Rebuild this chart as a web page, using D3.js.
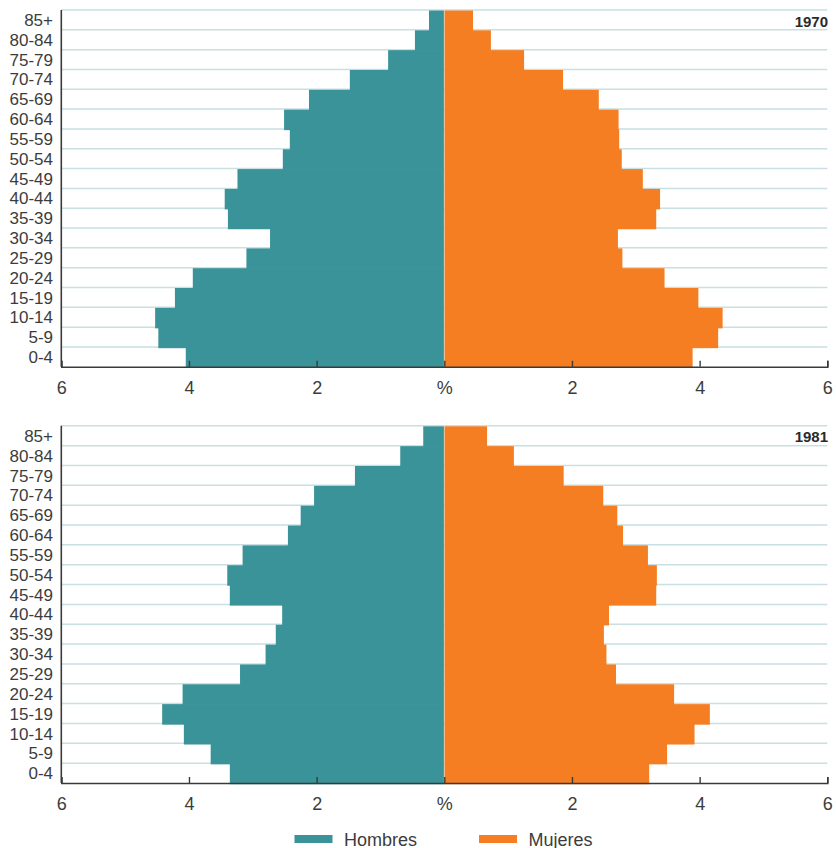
<!DOCTYPE html>
<html>
<head>
<meta charset="utf-8">
<script src="https://cdn.jsdelivr.net/npm/d3@7"></script>
<style>
  html, body { margin: 0; padding: 0; background: #fff; }
  svg { display: block; font-family: "Liberation Sans", Arial, Helvetica, sans-serif; }
</style>
</head>
<body>
<svg id="chart" width="836" height="848"></svg>
<script>
// Age groups, top to bottom
const ageGroups = ["85+","80-84","75-79","70-74","65-69","60-64","55-59","50-54","45-49","40-44","35-39","30-34","25-29","20-24","15-19","10-14","5-9","0-4"];

// 1970 (% of population)
const men1970   = [0.24,0.46,0.88,1.48,2.12,2.51,2.42,2.53,3.24,3.44,3.39,2.73,3.10,3.94,4.22,4.53,4.48,4.05];
const women1970 = [0.45,0.73,1.25,1.86,2.42,2.73,2.74,2.78,3.11,3.38,3.32,2.72,2.79,3.45,3.98,4.36,4.29,3.89];

// 1981 (% of population)
const men1981   = [0.33,0.69,1.40,2.04,2.25,2.45,3.16,3.40,3.36,2.54,2.64,2.80,3.20,4.10,4.42,4.08,3.66,3.36];
const women1981 = [0.67,1.09,1.87,2.49,2.71,2.80,3.19,3.33,3.32,2.58,2.50,2.54,2.69,3.60,4.16,3.92,3.49,3.21];

const tickValues = [-6,-4,-2,0,2,4,6];
const tickLabels = ["6","4","2","%","2","4","6"];
const years = ["1970","1981"];
const seriesNames = ["Hombres","Mujeres"];

const colors = { men: "#3a9399", women: "#f47e21" };
const textColor = "#3c3c3c";
const gridColor = "#c9dfe2";
const axisColor = "#3a3a3a";

const svg = d3.select("#chart");

const x = d3.scaleLinear().domain([-6, 6]).range([61.3, 827.3]);

const panels = [
  { year: years[0], men: men1970, women: women1970, top: 10, bottom: 366.8 },
  { year: years[1], men: men1981, women: women1981, top: 425.8, bottom: 783 }
];

panels.forEach(p => {
  const g = svg.append("g");
  const y = d3.scaleBand().domain(ageGroups).range([p.top, p.bottom]).padding(0);

  // gridlines at row boundaries
  g.append("g").selectAll("line").data(ageGroups).join("line")
    .attr("x1", x(-6)).attr("x2", x(6))
    .attr("y1", d => y(d)).attr("y2", d => y(d))
    .attr("stroke", gridColor).attr("stroke-width", 1.5);

  // men bars (left)
  g.append("g").selectAll("rect").data(ageGroups).join("rect")
    .attr("x", (d, i) => x(-p.men[i]))
    .attr("y", d => y(d) + 0.5)
    .attr("width", (d, i) => x(0) - x(-p.men[i]))
    .attr("height", y.bandwidth() + 0.7)
    .attr("fill", colors.men);

  // women bars (right)
  g.append("g").selectAll("rect").data(ageGroups).join("rect")
    .attr("x", x(0))
    .attr("y", d => y(d) + 0.5)
    .attr("width", (d, i) => x(p.women[i]) - x(0))
    .attr("height", y.bandwidth() + 0.7)
    .attr("fill", colors.women);

  // faint centre separator
  g.append("line")
    .attr("x1", x(0)).attr("x2", x(0))
    .attr("y1", p.top).attr("y2", p.bottom)
    .attr("stroke", "#ffffff").attr("stroke-opacity", 0.45).attr("stroke-width", 1);

  // y labels
  g.append("g").selectAll("text").data(ageGroups).join("text")
    .attr("x", 53)
    .attr("y", d => y(d) + y.bandwidth() / 2)
    .attr("dy", "0.36em")
    .attr("text-anchor", "end")
    .attr("font-size", 17)
    .attr("fill", textColor)
    .text(d => d);

  // bottom axis
  const axis = d3.axisBottom(x).tickValues(tickValues)
    .tickFormat((d, i) => tickLabels[i]).tickSize(-6).tickPadding(14);
  const ax = g.append("g").attr("transform", `translate(0,${p.bottom})`).call(axis);
  ax.select(".domain").attr("stroke", axisColor).attr("stroke-width", 1.6);
  ax.selectAll(".tick line").attr("stroke", axisColor).attr("stroke-width", 1.4);
  ax.selectAll(".tick text").attr("font-size", 18).attr("fill", textColor)
    .attr("font-family", '"Liberation Sans", Arial, sans-serif').attr("dy", "0.71em");

  // left vertical axis line
  g.append("line")
    .attr("x1", x(-6)).attr("x2", x(-6))
    .attr("y1", p.top).attr("y2", p.bottom)
    .attr("stroke", axisColor).attr("stroke-width", 1.6);

  // year label
  g.append("text")
    .attr("x", 828).attr("y", p.top + 16.5)
    .attr("text-anchor", "end")
    .attr("font-size", 15).attr("font-weight", "bold")
    .attr("fill", "#2a2a2a")
    .text(p.year);
});

// legend
const legend = svg.append("g");
const legendItems = [
  { name: seriesNames[0], color: colors.men, x: 294.5 },
  { name: seriesNames[1], color: colors.women, x: 479 }
];
legendItems.forEach(it => {
  legend.append("rect").attr("x", it.x).attr("y", 835).attr("width", 38).attr("height", 8).attr("fill", it.color);
  legend.append("text").attr("x", it.x + 49.5).attr("y", 845.5)
    .attr("font-size", 18).attr("fill", textColor).text(it.name);
});
</script>
</body>
</html>
